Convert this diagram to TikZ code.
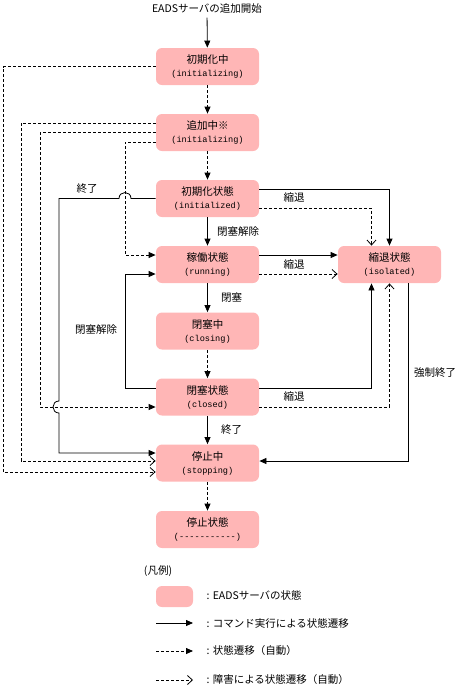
\documentclass[tikz,border=0pt]{standalone}
\usepackage{fontspec}
\setmainfont{Noto Sans CJK JP}
\setmonofont{Liberation Mono}
\usetikzlibrary{arrows.meta}
\definecolor{statepink}{HTML}{FFB6B6}
\newcommand{\statename}[1]{{\fontsize{8.6}{13}\ttfamily #1}}

\begin{document}
\begin{tikzpicture}[x=1pt,y=-1pt,line width=0.8pt,font=\fontsize{10.5}{13}\selectfont,
  state/.style={fill=statepink,rounded corners=6pt,minimum width=103pt,minimum height=37pt,inner sep=0pt,align=center},
  cmd/.style={-{Triangle[length=7pt,width=6pt]}},
  autoflow/.style={dash pattern=on 3pt off 2pt,-{Triangle[length=7pt,width=6pt]}},
  fault/.style={dash pattern=on 3pt off 2pt,-{Straight Barb[length=5pt,width=9pt]}}]
\useasboundingbox (0,0) rectangle (460,689);

% states
\node (start) at (207,9) {EADSサーバの追加開始};
\node[state] (init) at (207.5,66.5) {初期化中\\\statename{(initializing)}};
\node[state] (adding) at (207.5,132.5) {追加中※\\\statename{(initializing)}};
\node[state] (initialized) at (207.5,198.5) {初期化状態\\\statename{(initialized)}};
\node[state] (running) at (207.5,264.5) {稼働状態\\\statename{(running)}};
\node[state] (closing) at (207.5,331) {閉塞中\\\statename{(closing)}};
\node[state] (closed) at (207.5,397) {閉塞状態\\\statename{(closed)}};
\node[state] (stopping) at (207.5,463) {停止中\\\statename{(stopping)}};
\node[state] (stopped) at (207.5,529.5) {停止状態\\\statename{(-----------)}};
\node[state] (isolated) at (389.5,264.5) {縮退状態\\\statename{(isolated)}};

% main line
\draw[cmd] (start) -- (init);
\draw[autoflow] (init) -- (adding);
\draw[autoflow] (adding) -- (initialized);
\draw[cmd] (initialized) -- node[right=6pt] (lbopen) {閉塞解除} (running);
\draw[cmd] (running) -- node[right=10pt] (lbclose) {閉塞} (closing);
\draw[autoflow] (closing) -- (closed);
\draw[cmd] (closed) -- node[right=10pt] (lbend) {終了} (stopping);
\draw[autoflow] (stopping) -- (stopped);

% left side
\draw[fault] (init.west) -- (3,66.5) |- ([yshift=-9pt]stopping.west);
\draw[fault] ([yshift=9.5pt]adding.west) -- (21,123) |- ([yshift=2pt]stopping.west);
\draw[autoflow] (adding.west) -- (40,132.5) |- ([yshift=-10pt]closed.west);
\draw[autoflow] ([yshift=-9.5pt]adding.west) -- (125,142) |- ([yshift=9.5pt]running.west);
\draw[cmd] (initialized.west) -- (131,198.5) to[out=90,in=90,looseness=1.7] (119,198.5)
  -- (59,198.5) -- (59,401) to[out=180,in=180,looseness=1.7] (59,413)
  |- ([yshift=10pt]stopping.west);
\draw[cmd] ([yshift=9pt]closed.west) -- (125,388) |- ([yshift=-9.5pt]running.west);
\node (lbendleft) at (87,189) {終了};
\node (lbopenleft) at (96,330) {閉塞解除};

% right side
\draw[cmd] ([yshift=9.5pt]initialized.east) -| (isolated.north);
\draw[fault] ([yshift=-9.5pt]initialized.east) -| ([xshift=-18pt]isolated.north);
\draw[cmd] ([yshift=9.5pt]running.east) -- ([yshift=9.5pt]isolated.west);
\draw[fault] ([yshift=-9.5pt]running.east) -- ([yshift=-9.5pt]isolated.west);
\draw[cmd] ([yshift=9pt]closed.east) -| ([xshift=-18pt]isolated.south);
\draw[fault] ([yshift=-10pt]closed.east) -| (isolated.south);
\draw[cmd] ([xshift=18.5pt]isolated.south) |- ([yshift=2pt]stopping.east);
\node (lbiso1) at (294,197) {縮退};
\node (lbiso2) at (294,264.5) {縮退};
\node (lbiso3) at (294,396) {縮退};
\node (lbforce) at (435,373) {強制終了};

% legend
\node (legtitle) at (158,571) {(凡例)};
\node[state,minimum width=37pt,minimum height=21pt] (legstate) at (174.5,596.5) {};
\node[anchor=west] (legtxt1) at (203,595) {: EADSサーバの状態};
\coordinate (cmdA) at (156,623);
\coordinate (cmdB) at (193,623);
\draw[cmd] (cmdA) -- (cmdB);
\node[anchor=west] (legtxt2) at (203,623) {: コマンド実行による状態遷移};
\coordinate (autoA) at (156,651);
\coordinate (autoB) at (193,651);
\draw[autoflow] (autoA) -- (autoB);
\node[anchor=west] (legtxt3) at (203,651) {: 状態遷移（自動）};
\coordinate (faultA) at (156,680);
\coordinate (faultB) at (193,680);
\draw[fault] (faultA) -- (faultB);
\node[anchor=west] (legtxt4) at (203,680) {: 障害による状態遷移（自動）};
\end{tikzpicture}
\end{document}
